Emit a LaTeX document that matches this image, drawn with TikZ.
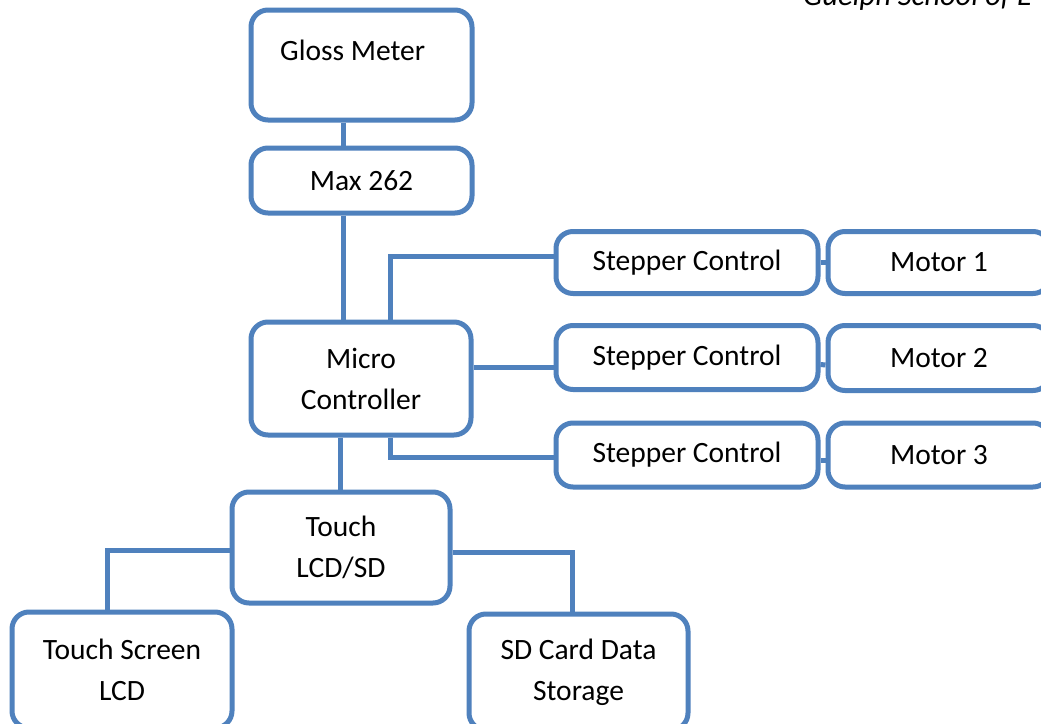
\documentclass[tikz,border=0pt]{standalone}
\usepackage{fontspec}
\setmainfont{Carlito}
\usetikzlibrary{calc}
\definecolor{boxblue}{HTML}{4F81BD}
\begin{document}
\begin{tikzpicture}[x=1pt,y=-1pt,
  box/.style={draw=boxblue, line width=5pt, rounded corners=17pt, fill=white,
    inner sep=0pt, align=center, font=\fontsize{29.5}{41}\selectfont},
  link/.style={draw=boxblue, line width=5pt},
  lbl/.style={inner sep=0pt, font=\fontsize{29.5}{41}\selectfont}]
\useasboundingbox (0,0) rectangle (1041,723);
\clip (0,0) rectangle (1041,723);
\fill[white] (0,0) rectangle (1041,723);

% header (cut off at the top edge, as in the reference)
\node[lbl, anchor=base west, font=\fontsize{30.5}{34}\selectfont\itshape] (hdr) at (803,5) {Guelph School of E};

% coordinates for connector columns
\coordinate (cx1) at (343,0);
\coordinate (cx2) at (390,0);
\coordinate (cx3) at (340,0);

% boxes
\node[box, minimum width=221pt, minimum height=110pt] (gloss) at (361.5,65) {};
\node[lbl, anchor=west] (glosst) at (280,50) {Gloss Meter};
\node[box, minimum width=221pt, minimum height=65pt] (max) at (361.5,180.5) {\raisebox{-3pt}{Max 262}};
\node[box, minimum width=220pt, minimum height=113pt] (micro) at (361,378.5) {Micro\\Controller};

\node[box, minimum width=262pt, minimum height=62pt] (st1) at (687,262.5) {\raisebox{-1pt}{Stepper Control}};
\node[box, minimum width=262pt, minimum height=64pt] (st2) at (687,357.5) {\raisebox{-2pt}{Stepper Control}};
\node[box, minimum width=262pt, minimum height=64pt] (st3) at (687,455) {\raisebox{-1pt}{Stepper Control}};

\node[box, minimum width=222pt, minimum height=62pt] (m1) at (939,262.5) {Motor 1};
\node[box, minimum width=222pt, minimum height=65pt] (m2) at (939,358) {\raisebox{-4pt}{Motor 2}};
\node[box, minimum width=222pt, minimum height=64pt] (m3) at (939,455) {\raisebox{-1pt}{Motor 3}};

\node[box, minimum width=218pt, minimum height=111pt] (touch) at (341,547.5) {Touch\\LCD/SD};
\node[box, minimum width=220pt, minimum height=116pt] (tscr) at (122,670) {Touch Screen\\LCD};
\node[box, minimum width=219pt, minimum height=116pt] (sd) at (578.5,672) {SD Card Data\\Storage};

% connectors
\draw[link] (gloss.south -| cx1) -- (max.north -| cx1);
\draw[link] (max.south -| cx1) -- (micro.north -| cx1);
\draw[link] (micro.north -| cx2) |- ($(st1.west)+(0,-6)$);
\draw[link] ($(micro.east)+(0,-11.5)$) -- ($(st2.west)+(0,9.5)$);
\draw[link] (micro.south -| cx2) |- ($(st3.west)+(0,2)$);
\draw[link] (st1.east) -- (m1.west);
\draw[link] ($(st2.east)+(0,7)$) -- ($(m2.west)+(0,7)$);
\draw[link] ($(st3.east)+(0,5)$) -- ($(m3.west)+(0,5)$);
\draw[link] (micro.south -| cx3) -- (touch.north -| cx3);
\draw[link] ($(touch.west)+(0,2.5)$) -| (tscr.north -| 107,0);
\draw[link] ($(touch.east)+(0,4.5)$) -| ($(sd.north -| 572,0)+(0,2)$);
\end{tikzpicture}
\end{document}
